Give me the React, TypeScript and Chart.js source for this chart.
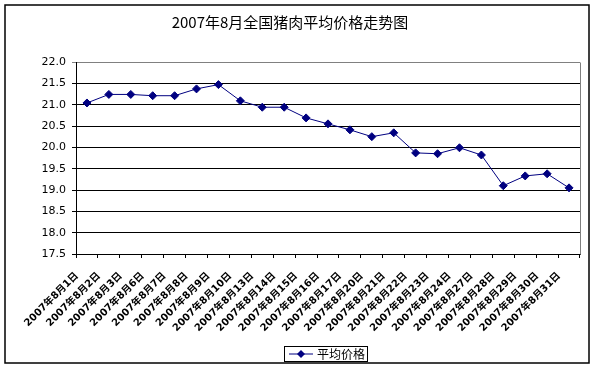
import React, { useEffect, useRef } from "react";
import { Chart, registerables } from "chart.js";

Chart.register(...registerables);

const TITLE = "2007年8月全国猪肉平均价格走势图";
const SERIES_NAME = "平均价格";
const DAYS = [1, 2, 3, 6, 7, 8, 9, 10, 13, 14, 15, 16, 17, 20, 21, 22, 23, 24, 27, 28, 29, 30, 31];
const CATEGORIES = DAYS.map((d) => `2007年8月${d}日`);
const PRICES = [21.04, 21.24, 21.24, 21.21, 21.21, 21.37, 21.47, 21.09, 20.94, 20.94, 20.69, 20.55, 20.41, 20.25, 20.34, 19.87, 19.85, 19.99, 19.82, 19.10, 19.33, 19.38, 19.05];
const Y_MIN = 17.5;
const Y_MAX = 22.0;
const Y_STEP = 0.5;

const NAVY = "#000080";

const framePlugin = {
  id: "frame",
  afterDraw(chart: any) {
    const ctx = chart.ctx;
    const a = chart.chartArea;
    ctx.save();
    ctx.strokeStyle = "#808080";
    ctx.lineWidth = 1;
    ctx.beginPath();
    ctx.moveTo(Math.round(a.right) + 0.5, Math.round(a.top) + 0.5);
    ctx.lineTo(Math.round(a.right) + 0.5, Math.round(a.bottom) + 0.5);
    ctx.stroke();
    ctx.strokeStyle = "#000000";
    ctx.lineWidth = 1.5;
    ctx.strokeRect(5, 5, 584, 358);
    const bx = 284, by = 346, bw = 83, bh = 15;
    ctx.lineWidth = 1;
    ctx.strokeRect(bx + 0.5, by + 0.5, bw, bh);
    const cy = by + bh / 2 + 0.5;
    ctx.strokeStyle = NAVY;
    ctx.beginPath();
    ctx.moveTo(bx + 5, cy);
    ctx.lineTo(bx + 29, cy);
    ctx.stroke();
    ctx.fillStyle = NAVY;
    ctx.beginPath();
    const mx = bx + 17;
    ctx.moveTo(mx, cy - 4);
    ctx.lineTo(mx + 4, cy);
    ctx.lineTo(mx, cy + 4);
    ctx.lineTo(mx - 4, cy);
    ctx.closePath();
    ctx.fill();
    ctx.fillStyle = "#000";
    ctx.font = '12px "Noto Sans CJK SC"';
    ctx.textBaseline = "middle";
    ctx.textAlign = "left";
    ctx.fillText(SERIES_NAME, bx + 33, cy);
    ctx.restore();
  },
};

export default function App() {
  const ref = useRef<HTMLCanvasElement>(null);
  useEffect(() => {
    if (!ref.current) return;
    const chart = new Chart(ref.current, {
      type: "line",
      data: {
        labels: CATEGORIES,
        datasets: [
          {
            label: SERIES_NAME,
            data: PRICES,
            borderColor: NAVY,
            backgroundColor: NAVY,
            borderWidth: 1,
            pointStyle: "rectRot",
            pointRadius: 4,
            pointBackgroundColor: NAVY,
            pointBorderColor: NAVY,
            tension: 0,
          },
        ],
      },
      options: {
        animation: false,
        responsive: false,
        maintainAspectRatio: false,
        layout: { padding: { left: 0, right: 16, top: 0, bottom: 0 } },
        plugins: {
          legend: { display: false },
          tooltip: { enabled: false },
          title: {
            display: true,
            text: TITLE,
            color: "#000",
            font: { family: '"Noto Sans CJK SC"', size: 15, weight: "normal" },
            padding: { top: 13, bottom: 31 },
          },
        },
        scales: {
          x: {
            type: "category",
            offset: true,
            afterFit: (s: any) => {
              s.height = 116;
            },
            grid: {
              offset: true,
              drawOnChartArea: false,
              drawTicks: true,
              tickLength: 4,
              color: "#000",
            },
            border: { display: true, color: "#000", width: 1 },
            ticks: {
              autoSkip: false,
              maxRotation: 45,
              minRotation: 45,
              padding: 12,
              labelOffset: -10,
              color: "#000",
              font: { family: '"DejaVu Sans", "Noto Sans CJK SC"', size: 10, weight: "bold" },
            },
          },
          y: {
            min: Y_MIN,
            max: Y_MAX,
            afterFit: (s: any) => {
              s.width = 76;
            },
            grid: {
              color: (c: any) => (c.tick && c.tick.value === Y_MAX ? "#808080" : "#000"),
              tickLength: 4,
              lineWidth: 1,
            },
            border: { display: true, color: "#000", width: 1 },
            ticks: {
              stepSize: Y_STEP,
              padding: 6,
              color: "#000",
              font: { family: '"DejaVu Sans"', size: 11 },
              callback: (v: any) => Number(v).toFixed(1),
            },
          },
        },
      },
      plugins: [framePlugin],
    });
    return () => chart.destroy();
  }, []);
  return (
    <div style={{ position: "fixed", left: 0, top: 0, width: 596, height: 370, background: "#fff" }}>
      <canvas ref={ref} width={596} height={370} style={{ display: "block", width: 596, height: 370 }} />
    </div>
  );
}
